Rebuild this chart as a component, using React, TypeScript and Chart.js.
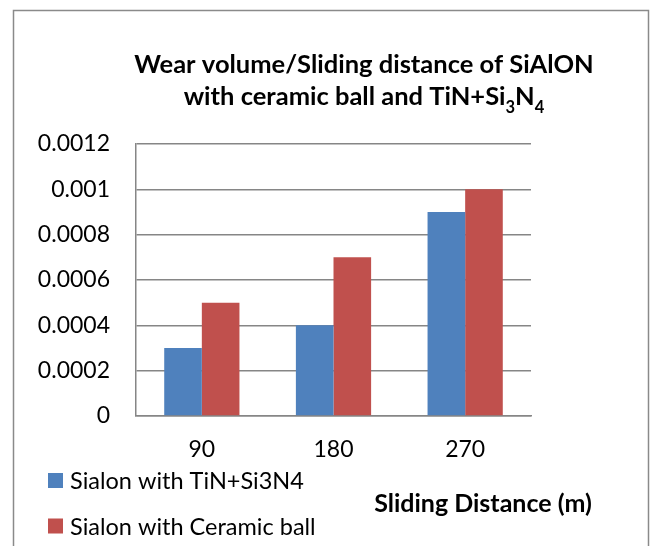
import { useEffect, useRef } from 'react';
import { Chart, registerables } from 'chart.js';

Chart.register(...registerables);

// Sliding distance categories (m)
const categories = ['90', '180', '270'];
// Wear volume per sliding distance for each counterface
const tinSi3n4Wear = [0.0003, 0.0004, 0.0009];
const ceramicBallWear = [0.0005, 0.0007, 0.001];
const seriesLabels = ['Sialon with TiN+Si3N4', 'Sialon with Ceramic ball'];
const seriesColors = ['#4F81BD', '#C0504D'];
const yTickLabels = ['0', '0.0002', '0.0004', '0.0006', '0.0008', '0.001', '0.0012'];

const titleLine1 = 'Wear volume/Sliding distance of SiAlON';
const titleLine2 = [
  { text: 'with ceramic ball and TiN+Si', sub: false },
  { text: '3', sub: true },
  { text: 'N', sub: false },
  { text: '4', sub: true },
];
const xAxisTitle = 'Sliding Distance (m)';

const FONT = 'Lato, "Open Sans", sans-serif';
const GRID = '#868686';

const decorations = {
  id: 'decorations',
  beforeDraw(chart: any) {
    const ctx = chart.ctx;
    ctx.save();
    ctx.fillStyle = '#ffffff';
    ctx.fillRect(0, 0, chart.width, chart.height);
    // outer chart frame
    ctx.strokeStyle = '#8a8a8a';
    ctx.lineWidth = 1.5;
    ctx.strokeRect(13.5, 10.5, 635, 600);
    ctx.restore();
  },
  afterDraw(chart: any) {
    const ctx = chart.ctx;
    ctx.save();
    ctx.fillStyle = '#000000';
    ctx.textBaseline = 'alphabetic';

    // two-line title, second line with subscripts
    const big = `bold 25.5px ${FONT}`;
    const small = `bold 16.5px ${FONT}`;
    ctx.font = big;
    ctx.textAlign = 'center';
    ctx.fillText(titleLine1, 364, 73);

    ctx.textAlign = 'left';
    const widths = titleLine2.map((p) => {
      ctx.font = p.sub ? small : big;
      return ctx.measureText(p.text).width;
    });
    const total = widths.reduce((a, b) => a + b, 0);
    let x = 364 - total / 2;
    titleLine2.forEach((p, i) => {
      ctx.font = p.sub ? small : big;
      ctx.fillText(p.text, x, p.sub ? 113 : 105);
      x += widths[i];
    });

    // legend, stacked at bottom left
    ctx.font = `23.5px ${FONT}`;
    ctx.textBaseline = 'middle';
    chart.data.datasets.forEach((ds: any, i: number) => {
      const cy = 480.5 + i * 45.5;
      ctx.fillStyle = ds.backgroundColor;
      ctx.fillRect(48, cy - 7.5, 15, 15);
      ctx.fillStyle = '#000000';
      ctx.fillText(ds.label, 70, cy + 1);
    });

    // x axis title
    ctx.font = `bold 25px ${FONT}`;
    ctx.textAlign = 'center';
    ctx.fillText(xAxisTitle, 483, 504);
    ctx.restore();
  },
};

export default function App() {
  const ref = useRef<HTMLCanvasElement>(null);

  useEffect(() => {
    if (!ref.current) return;
    const chart = new Chart(ref.current, {
      type: 'bar',
      data: {
        labels: categories,
        datasets: [
          { label: seriesLabels[0], data: tinSi3n4Wear, backgroundColor: seriesColors[0] },
          { label: seriesLabels[1], data: ceramicBallWear, backgroundColor: seriesColors[1] },
        ],
      },
      options: {
        animation: false,
        responsive: false,
        devicePixelRatio: 1,
        layout: { padding: { left: 0, top: 144, right: 123, bottom: 0 } },
        datasets: { bar: { categoryPercentage: 0.5714, barPercentage: 1, borderWidth: 0 } },
        plugins: {
          legend: { display: false },
          title: { display: false },
          tooltip: { enabled: false },
        },
        scales: {
          x: {
            grid: { display: false, drawTicks: false },
            border: { color: GRID, width: 1.5 },
            ticks: { color: '#000', font: { family: FONT, size: 23 }, padding: 20 },
            afterFit: (s: any) => { s.height = 130; },
          },
          y: {
            min: 0,
            max: 0.0012,
            ticks: {
              stepSize: 0.0002,
              color: '#000',
              font: { family: FONT, size: 23 },
              padding: 26,
              callback: (_v: any, i: number) => yTickLabels[i],
            },
            grid: { color: GRID, lineWidth: 1.5, drawTicks: false },
            border: { color: GRID, width: 1.5 },
            afterFit: (s: any) => { s.width = 136; },
          },
        },
      },
      plugins: [decorations],
    });
    return () => chart.destroy();
  }, []);

  return (
    <div style={{ position: 'fixed', left: 0, top: 0, width: 654, height: 546, background: '#fff' }}>
      <canvas ref={ref} width={654} height={546} />
    </div>
  );
}
